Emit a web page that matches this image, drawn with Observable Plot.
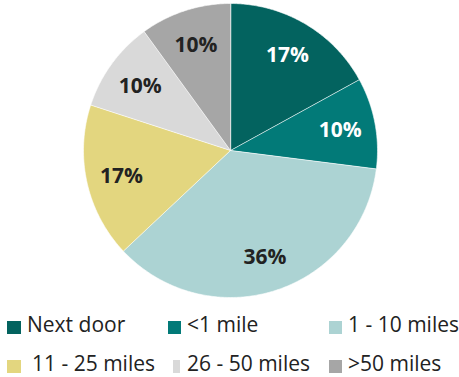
<!DOCTYPE html>
<html><head><meta charset="utf-8">
<script src="https://cdn.jsdelivr.net/npm/d3@7"></script>
<script src="https://cdn.jsdelivr.net/npm/@observablehq/plot@0.6"></script>
<style>
body{margin:0;background:#fff;font-family:"Open Sans",sans-serif;}
#wrap{position:relative;width:459px;height:377px;}
.lg{position:absolute;font-size:21px;color:#222;line-height:1;white-space:nowrap;}
.sw{position:absolute;width:14px;height:13px;}
</style></head>
<body><div id="wrap"></div>
<script>
const categories = ["Next door","<1 mile","1 - 10 miles","11 - 25 miles","26 - 50 miles",">50 miles"];
const values = [17,10,36,17,10,10];
const labels = ["17%","10%","36%","17%","10%","10%"];
const colors = ["#03635f","#027a78","#acd3d3","#e3d67f","#d9d9d9","#a6a6a6"];
const labelColors = ["#fff","#fff","#222","#222","#222","#222"];

const pie = d3.pie().sort(null).value(d => d)(values);
const slices = [];
pie.forEach((p, i) => {
  slices.push({cat: categories[i], x: 0, y: 0});
  const n = Math.max(2, Math.ceil((p.endAngle - p.startAngle) / 0.01));
  for (let k = 0; k <= n; k++) {
    const a = p.startAngle + (p.endAngle - p.startAngle) * k / n;
    slices.push({cat: categories[i], x: Math.sin(a), y: Math.cos(a)});
  }
});
const textData = pie.map((p, i) => {
  const a = (p.startAngle + p.endAngle) / 2;
  return {cat: categories[i], label: labels[i], x: 0.76 * Math.sin(a), y: 0.76 * Math.cos(a), c: labelColors[i]};
});

const chart = Plot.plot({
  width: 459, height: 305,
  marginLeft: 83, marginRight: 82, marginTop: 3, marginBottom: 8,
  x: {domain: [-1, 1], axis: null},
  y: {domain: [-1, 1], axis: null},
  color: {domain: categories, range: colors},
  style: {fontFamily: "Open Sans, sans-serif"},
  marks: [
    Plot.line(slices, {x: "x", y: "y", z: "cat", fill: "cat", stroke: "#fff", strokeWidth: 0.6, curve: "linear-closed"}),
    Plot.text(textData, {x: "x", y: "y", text: "label", fill: d => d.c, fontSize: 21, fontWeight: "bold", dy: 1})
  ]
});
const wrap = document.getElementById("wrap");
wrap.appendChild(chart);

const legendPos = [
  {sx:7,sy:321,sw:14,tx:27,ty:314},
  {sx:168,sy:321,sw:13,tx:187,ty:314},
  {sx:329,sy:321,sw:13,tx:348,ty:314},
  {sx:7,sy:360,sw:14,tx:32,ty:353},
  {sx:173,sy:360,sw:7,tx:187,ty:353},
  {sx:329,sy:360,sw:13,tx:348,ty:353}
];
categories.forEach((c, i) => {
  const p = legendPos[i];
  const s = document.createElement("div");
  s.className = "sw";
  s.style.left = p.sx + "px"; s.style.top = p.sy + "px"; s.style.width = p.sw + "px";
  s.style.background = colors[i];
  wrap.appendChild(s);
  const t = document.createElement("div");
  t.className = "lg";
  t.style.left = p.tx + "px"; t.style.top = p.ty + "px";
  t.textContent = c;
  wrap.appendChild(t);
});
</script></body></html>
